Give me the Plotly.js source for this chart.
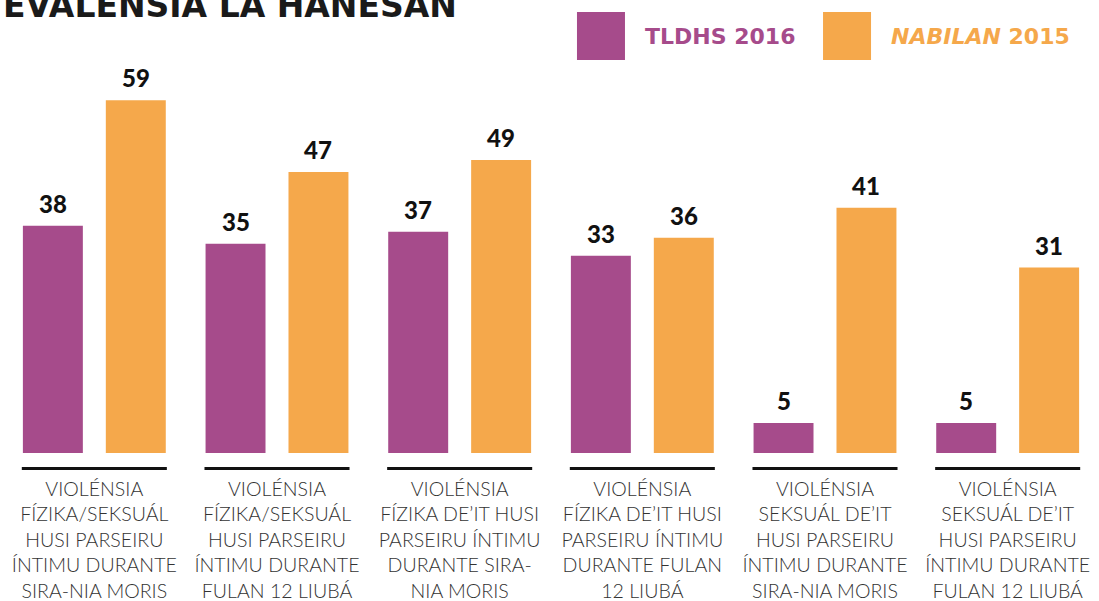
<!DOCTYPE html>
<html>
<head>
<meta charset="utf-8">
<script src="https://cdn.plot.ly/plotly-3.0.1.min.js"></script>
<style>html,body{margin:0;padding:0;background:#fff;}#chart{width:1099px;height:601px;}</style>
</head>
<body>
<div id="chart"></div>
<script>
const chartTitle = 'EVALÉNSIA LA HANESAN';
const categories = [
  'VIOLÉNSIA<br>FÍZIKA/SEKSUÁL<br>HUSI PARSEIRU<br>ÍNTIMU DURANTE<br>SIRA-NIA MORIS',
  'VIOLÉNSIA<br>FÍZIKA/SEKSUÁL<br>HUSI PARSEIRU<br>ÍNTIMU DURANTE<br>FULAN 12 LIUBÁ',
  'VIOLÉNSIA<br>FÍZIKA DE\u2019IT HUSI<br>PARSEIRU ÍNTIMU<br>DURANTE SIRA-<br>NIA MORIS',
  'VIOLÉNSIA<br>FÍZIKA DE\u2019IT HUSI<br>PARSEIRU ÍNTIMU<br>DURANTE FULAN<br>12 LIUBÁ',
  'VIOLÉNSIA<br>SEKSUÁL DE\u2019IT<br>HUSI PARSEIRU<br>ÍNTIMU DURANTE<br>SIRA-NIA MORIS',
  'VIOLÉNSIA<br>SEKSUÁL DE\u2019IT<br>HUSI PARSEIRU<br>ÍNTIMU DURANTE<br>FULAN 12 LIUBÁ'
];
const tldhs2016 = [38, 35, 37, 33, 5, 5];
const nabilan2015 = [59, 47, 49, 36, 41, 31];
const seriesNames = ['TLDHS 2016', '<i>NABILAN</i> 2015'];
const seriesColors = ['#A64B8B', '#F5A84B'];

const xIdx = categories.map((_, i) => i);
const bargap = 0.092, bargroupgap = 0.277;
const slotOffset = (1 - bargap) / 4;

const traces = [
  {type: 'bar', x: xIdx, y: tldhs2016, name: seriesNames[0], marker: {color: seriesColors[0]}, hoverinfo: 'skip'},
  {type: 'bar', x: xIdx, y: nabilan2015, name: seriesNames[1], marker: {color: seriesColors[1]}, hoverinfo: 'skip'}
];

const annotations = [];
[tldhs2016, nabilan2015].forEach((arr, s) => {
  arr.forEach((v, i) => {
    annotations.push({
      x: i + (s === 0 ? -slotOffset : slotOffset), y: v, xref: 'x', yref: 'y',
      text: String(v), showarrow: false, yanchor: 'bottom', yshift: 6,
      font: {family: 'Lato', size: 24, weight: 900, color: '#111'}
    });
  });
});
// title (top edge cut off as in the source image)
annotations.push({
  xref: 'paper', yref: 'paper', x: 0, y: 0.988, xanchor: 'left', yanchor: 'middle', xshift: -2,
  text: '<b>' + chartTitle + '</b>', showarrow: false,
  font: {family: 'DejaVu Sans', size: 33, color: '#1a1a1a'}
});
// legend
const legX = [0.5237, 0.7482];
const shapes = [];
seriesNames.forEach((n, s) => {
  shapes.push({type: 'rect', xref: 'paper', yref: 'paper', x0: legX[s], x1: legX[s] + 0.0438, y0: 0.8675, y1: 0.9735,
    fillcolor: seriesColors[s], line: {width: 0}});
  annotations.push({xref: 'paper', yref: 'paper', x: legX[s] + 0.0605, y: 0.9194, xanchor: 'left', yanchor: 'middle',
    text: '<b>' + n + '</b>', showarrow: false, font: {family: 'DejaVu Sans', size: 22, color: seriesColors[s]}});
});
// separator lines under each group
xIdx.forEach(i => {
  shapes.push({type: 'line', xref: 'x', yref: 'paper', x0: i - 0.397, x1: i + 0.397, y0: -0.034, y1: -0.034,
    line: {color: '#111', width: 3}});
});

const layout = {
  width: 1099, height: 601,
  margin: {l: 3, r: 0, t: 0, b: 148, pad: 0},
  paper_bgcolor: '#fff', plot_bgcolor: '#fff',
  barmode: 'group', bargap: bargap, bargroupgap: bargroupgap,
  showlegend: false,
  xaxis: {range: [-0.5, 5.5], tickvals: xIdx, ticktext: categories, showgrid: false, zeroline: false,
    showline: false, ticks: '', ticklabelstandoff: 22, fixedrange: true,
    tickfont: {family: 'Lato', size: 19.6, weight: 300, color: '#333'}},
  yaxis: {range: [0, 75.75], visible: false, fixedrange: true},
  annotations: annotations, shapes: shapes
};
Plotly.newPlot('chart', traces, layout, {displayModeBar: false, staticPlot: true});
</script>
</body>
</html>
